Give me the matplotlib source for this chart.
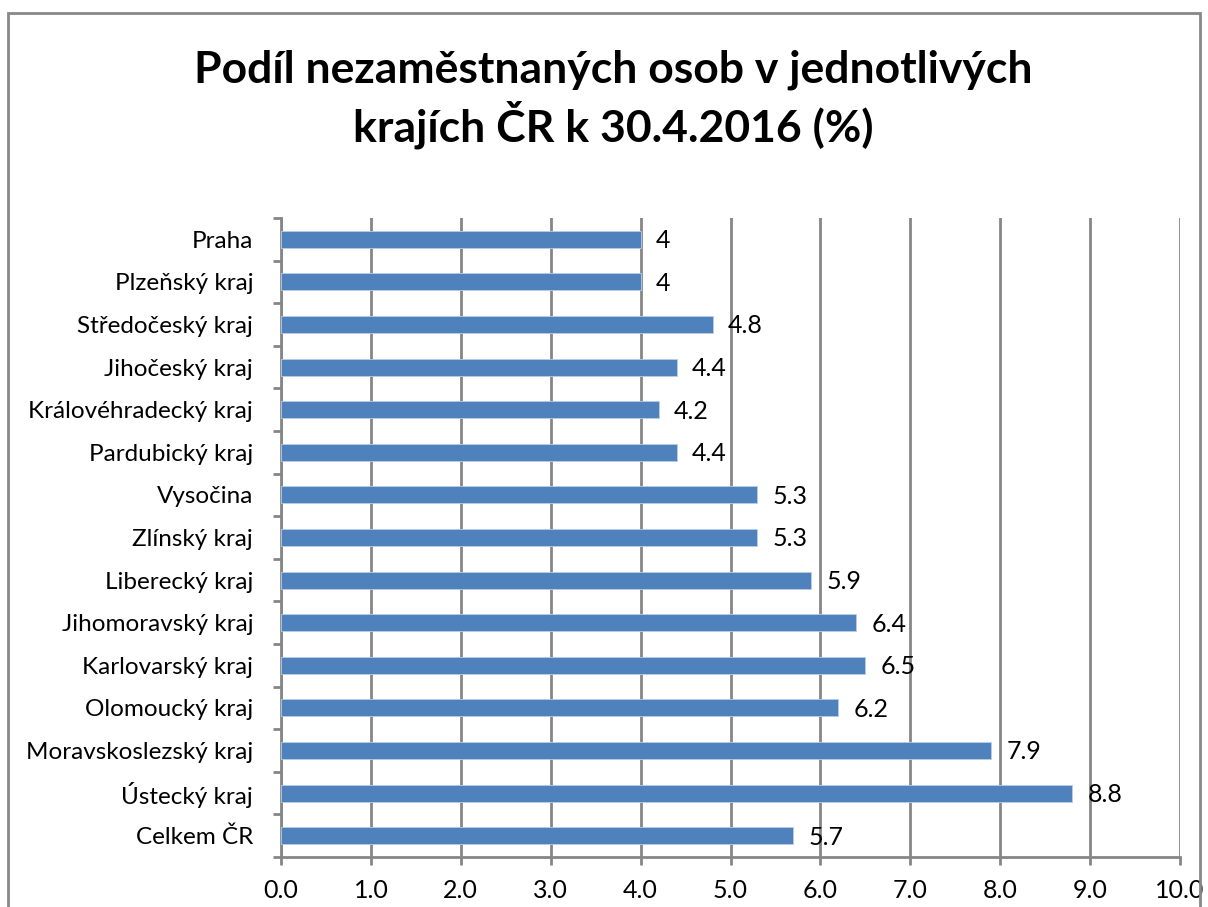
import matplotlib
matplotlib.use("Agg")
import matplotlib.pyplot as plt
from matplotlib.patches import Rectangle

regions = ["Praha", "Plzeňský kraj", "Středočeský kraj", "Jihočeský kraj",
           "Královéhradecký kraj", "Pardubický kraj", "Vysočina", "Zlínský kraj",
           "Liberecký kraj", "Jihomoravský kraj", "Karlovarský kraj", "Olomoucký kraj",
           "Moravskoslezský kraj", "Ústecký kraj", "Celkem ČR"]
values = [4, 4, 4.8, 4.4, 4.2, 4.4, 5.3, 5.3, 5.9, 6.4, 6.5, 6.2, 7.9, 8.8, 5.7]
value_labels = ["4", "4", "4.8", "4.4", "4.2", "4.4", "5.3", "5.3", "5.9", "6.4",
                "6.5", "6.2", "7.9", "8.8", "5.7"]
xticks = [0, 1, 2, 3, 4, 5, 6, 7, 8, 9, 10]

plt.rcParams["font.family"] = ["Lato", "DejaVu Sans"]
BAR = "#4F81BD"
GRID = "#868686"

fig = plt.figure(figsize=(12.08, 9.07), dpi=100)
fig.patches.append(Rectangle((8 / 1208, -0.1), 1192 / 1208, 1 - 13 / 907 + 0.1,
                             transform=fig.transFigure, fill=False,
                             edgecolor="#888888", linewidth=2))
ax = fig.add_axes([281 / 1208, 1 - 857 / 907, 899 / 1208, 639 / 907])

pos = list(range(len(regions)))
ax.barh(pos, values, height=0.4, color=BAR, edgecolor="#B9CDE5", linewidth=0.6, zorder=3)
for p, v, lab in zip(pos, values, value_labels):
    ax.annotate(lab, (v, p), xytext=(11, -1), textcoords="offset points",
                va="center", ha="left", fontsize=18)

ax.set_xlim(0, 10)
ax.set_ylim(len(regions) - 0.5, -0.5)
ax.set_xticks(xticks)
ax.set_xticklabels([f"{t:.1f}" for t in xticks], fontsize=18)
ax.set_yticks(pos)
ax.set_yticklabels(regions, fontsize=17.5)
ax.tick_params(axis="y", length=0, pad=20)
ax.set_yticks([p - 0.5 for p in pos] + [len(regions) - 0.5], minor=True)
ax.tick_params(axis="y", which="minor", length=6, color=GRID, width=2)
ax.tick_params(axis="x", length=6, color=GRID, width=2, pad=10)
ax.grid(axis="x", color=GRID, linewidth=2, zorder=0)
for s in ["top", "right"]:
    ax.spines[s].set_visible(False)
for s in ["left", "bottom"]:
    ax.spines[s].set_color(GRID)
    ax.spines[s].set_linewidth(2)

fig.text(0.508, 1 - 99 / 907, "Podíl nezaměstnaných osob v jednotlivých\nkrajích ČR k 30.4.2016 (%)",
         ha="center", va="center", fontsize=32, fontweight="bold", linespacing=1.25)

fig.savefig("out.png", dpi=100)
